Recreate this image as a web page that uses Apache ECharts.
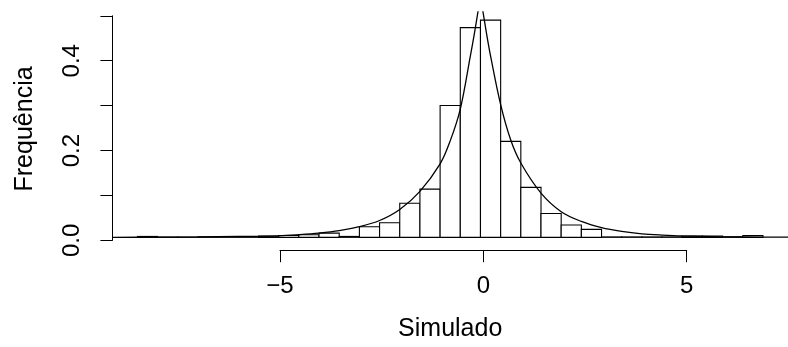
<!DOCTYPE html>
<html>
<head>
<meta charset="utf-8">
<script src="https://cdn.jsdelivr.net/npm/echarts@6/dist/echarts.min.js"></script>
<style>
html,body{margin:0;padding:0;background:#fff;}
#chart{width:788px;height:347px;}
</style>
</head>
<body>
<div id="chart"></div>
<script>
// Histogram bins (edges) and densities
const binEdges = [-8.5,-8,-7.5,-7,-6.5,-6,-5.5,-5,-4.5,-4,-3.5,-3,-2.5,-2,-1.5,-1,-0.5,0,0.5,1,1.5,2,2.5,3,3.5,4,4.5,5,5.5,6,6.5,7];
const densities = [0.002,0.0005,0.0005,0.001,0.001,0.001,0.003,0.004,0.006,0.0095,0.002,0.024,0.033,0.077,0.109,0.298,0.474,0.491,0.217,0.113,0.054,0.028,0.018,0.001,0.001,0.001,0.001,0.003,0.003,0.001,0.004];

// Density curve (left and right of the peak)
const curveLeftX = [-9.12,-8,-7,-6,-5,-4.5,-4,-3.5,-3,-2.5,-2,-1.5,-1,-0.75,-0.5,-0.25,-0.15,0];
const curveLeftY = [0.0001,0.0003,0.0009,0.002,0.0035,0.006,0.0095,0.015,0.024,0.038,0.063,0.104,0.166,0.218,0.29,0.41,0.461,0.545];
const curveRightX = [0,0.15,0.25,0.5,0.75,1,1.5,2,2.5,3,3.5,4,4.5,5,6,7,7.62];
const curveRightY = [0.545,0.461,0.41,0.30,0.22,0.168,0.100,0.058,0.036,0.022,0.0135,0.008,0.005,0.003,0.0012,0.0005,0.0003];

// Axis ticks and labels
const xTicks = [-5, 0, 5];
const xTickLabels = ['\u22125', '0', '5'];
const yTicks = [0, 0.1, 0.2, 0.3, 0.4, 0.5];
const yTickLabels = ['0.0', '', '0.2', '', '0.4', ''];
const xTitle = 'Simulado';
const yTitle = 'Frequência';

const FONT = '"Liberation Sans", Arial, Helvetica, sans-serif';

const histData = densities.map((d, i) => [binEdges[i], binEdges[i + 1], d]);
const leftData = curveLeftX.map((x, i) => [x, curveLeftY[i]]);
const rightData = curveRightX.map((x, i) => [x, curveRightY[i]]);

const chart = echarts.init(document.getElementById('chart'), null, {renderer: 'canvas'});

const option = {
  animation: false,
  backgroundColor: '#fff',
  grid: [
    {left: 112.4, top: 11.9, width: 680.8, height: 237.3},
    {left: 112.4, top: 15.8, width: 10, height: 224.6},
    {left: 280, top: 100, width: 406.7, height: 150.2}
  ],
  xAxis: [
    {
      gridIndex: 0, type: 'value', min: -9.12, max: 7.62,
      axisLine: {show: false}, axisTick: {show: false}, axisLabel: {show: false}, splitLine: {show: false},
      name: xTitle, nameLocation: 'middle', nameGap: 71,
      nameTextStyle: {fontFamily: FONT, fontSize: 25, color: '#000'}
    },
    {gridIndex: 1, type: 'value', show: false, min: 0, max: 1},
    {
      gridIndex: 2, type: 'value', min: -5, max: 5, interval: 5,
      axisLine: {show: true, lineStyle: {color: '#000', width: 1}},
      axisTick: {show: true, length: 12, lineStyle: {color: '#000', width: 1}},
      axisLabel: {
        show: true, margin: 24, fontFamily: FONT, fontSize: 24, color: '#000',
        formatter: v => { const i = xTicks.findIndex(t => Math.abs(t - v) < 1e-9); return i >= 0 ? xTickLabels[i] : ''; }
      },
      splitLine: {show: false}
    }
  ],
  yAxis: [
    {
      gridIndex: 0, type: 'value', min: -0.0196, max: 0.5096,
      axisLine: {show: false}, axisTick: {show: false}, axisLabel: {show: false}, splitLine: {show: false},
      name: yTitle, nameLocation: 'middle', nameGap: 75, nameRotate: 90,
      nameTextStyle: {fontFamily: FONT, fontSize: 25, color: '#000'}
    },
    {
      gridIndex: 1, type: 'value', min: 0, max: 0.5, interval: 0.1,
      axisLine: {show: true, lineStyle: {color: '#000', width: 1}},
      axisTick: {show: true, length: 12, lineStyle: {color: '#000', width: 1}},
      axisLabel: {
        show: true, rotate: 90, margin: 28, fontFamily: FONT, fontSize: 24, color: '#000',
        formatter: v => { const i = yTicks.findIndex(t => Math.abs(t - v) < 1e-9); return i >= 0 ? yTickLabels[i] : ''; }
      },
      splitLine: {show: false}
    },
    {gridIndex: 2, type: 'value', show: false, min: 0, max: 1}
  ],
  series: [
    {
      type: 'custom',
      xAxisIndex: 0, yAxisIndex: 0,
      data: histData,
      encode: {x: [0, 1], y: 2},
      clip: false,
      z: 2,
      renderItem: function (params, api) {
        const p0 = api.coord([api.value(0), api.value(2)]);
        const p1 = api.coord([api.value(1), 0]);
        return {
          type: 'rect',
          shape: {x: p0[0], y: p0[1], width: p1[0] - p0[0], height: p1[1] - p0[1]},
          style: {fill: '#fff', stroke: '#000', lineWidth: 1.1}
        };
      }
    },
    {
      type: 'line', xAxisIndex: 0, yAxisIndex: 0, data: leftData,
      smooth: 0.35, showSymbol: false, symbol: 'none', clip: true, z: 3,
      lineStyle: {color: '#000', width: 1.3}
    },
    {
      type: 'line', xAxisIndex: 0, yAxisIndex: 0, data: rightData,
      smooth: 0.35, showSymbol: false, symbol: 'none', clip: true, z: 3,
      lineStyle: {color: '#000', width: 1.3}
    }
  ]
};
chart.setOption(option);
</script>
</body>
</html>
